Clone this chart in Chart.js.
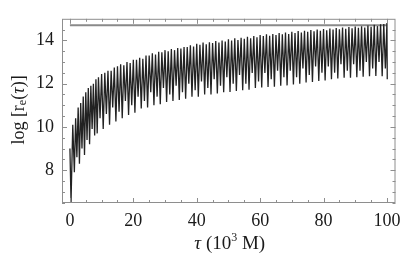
<!DOCTYPE html>
<html>
<head>
<meta charset="utf-8">
<script src="https://cdn.jsdelivr.net/npm/chart.js@4.4.1/dist/chart.umd.min.js"></script>
<style>
  body { margin: 0; background: #fff; }
  #wrap { width: 415px; height: 258px; position: relative; }
</style>
</head>
<body>
<div id="wrap"><canvas id="plot"></canvas></div>
<script>
// proper time tau, in units of 10^3 M
const tau = [
    0, 0.35, 0.9, 1.4, 1.8, 2.2, 2.6, 3.0, 3.4, 3.8, 4.2, 4.6, 5.0, 5.4, 5.8, 6.2,
    6.6, 7.0, 7.4, 7.8, 8.2, 8.6, 9.0, 9.5,
    10, 10.5, 11, 11.5, 12, 12.5, 13, 13.5, 14, 14.5, 15, 15.5, 16, 16.5, 17, 17.5,
    18, 18.5, 19, 19.5, 20, 20.5, 21, 21.5, 22, 22.5, 23, 23.5, 24, 24.5, 25, 25.5,
    26, 26.5, 27, 27.5, 28, 28.5, 29, 29.5, 30, 30.5, 31, 31.5, 32, 32.5, 33, 33.5,
    34, 34.5, 35, 35.5, 36, 36.5, 37, 37.5, 38, 38.5, 39, 39.5, 40, 40.5, 41, 41.5,
    42, 42.5, 43, 43.5, 44, 44.5, 45, 45.5, 46, 46.5, 47, 47.5, 48, 48.5, 49, 49.5,
    50, 50.5, 51, 51.5, 52, 52.5, 53, 53.5, 54, 54.5, 55, 55.5, 56, 56.5, 57, 57.5,
    58, 58.5, 59, 59.5, 60, 60.5, 61, 61.5, 62, 62.5, 63, 63.5, 64, 64.5, 65, 65.5,
    66, 66.5, 67, 67.5, 68, 68.5, 69, 69.5, 70, 70.5, 71, 71.5, 72, 72.5, 73, 73.5,
    74, 74.5, 75, 75.5, 76, 76.5, 77, 77.5, 78, 78.5, 79, 79.5, 80, 80.5, 81, 81.5,
    82, 82.5, 83, 83.5, 84, 84.5, 85, 85.5, 86, 86.5, 87, 87.5, 88, 88.5, 89, 89.5,
    90, 90.5, 91, 91.5, 92, 92.5, 93, 93.5, 94, 94.5, 95, 95.5, 96, 96.5, 97, 97.5,
    98, 98.5, 99, 99.5, 100, 100.1
];

// log[r_e(tau)] (peaks and dips)
const logRe = [
    9.0, 6.52, 10.1, 7.9, 10.4, 8.6, 10.9, 8.3, 11.1, 9.0, 11.4, 8.7, 11.6, 9.4, 11.8, 9.2,
    11.9, 9.9, 12.0, 9.6, 12.2, 9.7, 12.3, 10.4,
    12.45, 9.9, 12.5, 10.6, 12.6, 10.1, 12.6, 10.9, 12.75, 10.25, 12.8, 10.7, 12.9, 10.4, 12.85, 11.2,
    13.0, 10.55, 12.95, 11.0, 13.1, 10.65, 13.1, 11.4, 13.2, 10.85, 13.15, 11.2, 13.3, 10.9, 13.3, 11.6,
    13.4, 11.0, 13.35, 11.4, 13.48, 11.05, 13.45, 11.8, 13.55, 11.15, 13.5, 11.5, 13.6, 11.2, 13.55, 11.9,
    13.65, 11.25, 13.62, 11.6, 13.7, 11.3, 13.7, 12.0, 13.78, 11.4, 13.72, 11.7, 13.85, 11.4, 13.8, 12.1,
    13.9, 11.5, 13.82, 11.8, 13.92, 11.5, 13.88, 12.2, 13.97, 11.55, 13.9, 11.9, 14.0, 11.6, 13.95, 12.3,
    14.05, 11.62, 14.0, 12.0, 14.1, 11.66, 14.02, 12.4, 14.12, 11.7, 14.08, 12.0, 14.17, 11.72, 14.1, 12.5,
    14.2, 11.8, 14.15, 12.1, 14.25, 11.82, 14.2, 12.5, 14.28, 11.85, 14.22, 12.2, 14.3, 11.86, 14.25, 12.6,
    14.34, 11.9, 14.28, 12.3, 14.37, 11.92, 14.3, 12.6, 14.4, 11.96, 14.34, 12.3, 14.43, 12.0, 14.36, 12.7,
    14.45, 12.05, 14.4, 12.4, 14.48, 12.08, 14.42, 12.8, 14.5, 12.12, 14.45, 12.5, 14.53, 12.15, 14.47, 12.8,
    14.55, 12.2, 14.5, 12.5, 14.57, 12.24, 14.52, 12.9, 14.6, 12.27, 14.54, 12.6, 14.62, 12.28, 14.56, 12.9,
    14.64, 12.3, 14.58, 12.6, 14.66, 12.32, 14.6, 13.0, 14.69, 12.34, 14.63, 12.7, 14.72, 12.35, 14.66, 13.0,
    14.75, 12.34, 14.76, 12.7, 14.8, 12.2
];

// horizontal reference level
const refTau = [0, 100];
const refLog = [14.7, 14.7];

const xMajor = [0, 20, 40, 60, 80, 100];
const xMinor = [5, 10, 15, 25, 30, 35, 45, 50, 55, 65, 70, 75, 85, 90, 95];
const yMajor = [8, 10, 12, 14];
const yMinor = [6.5, 7, 7.5, 8.5, 9, 9.5, 10.5, 11, 11.5, 12.5, 13, 13.5, 14.5];

const SERIF = "'Liberation Serif', 'Times New Roman', serif";

function drawPieces(ctx, pieces, x0, y0) {
    // pieces: [text, font, dy]
    let w = 0;
    pieces.forEach(p => { ctx.font = p[1]; w += ctx.measureText(p[0]).width; });
    let x = x0 - w / 2;
    pieces.forEach(p => {
        ctx.font = p[1];
        ctx.fillText(p[0], x, y0 + p[2]);
        x += ctx.measureText(p[0]).width;
    });
}

const framePlugin = {
    id: 'frame',
    afterDatasetsDraw(chart) {
        const { ctx, chartArea: a, scales: { x, y } } = chart;
        ctx.save();
        ctx.strokeStyle = '#8e8e8e';
        ctx.lineWidth = 1;
        ctx.strokeRect(a.left + 0.5, a.top + 0.5, a.right - a.left - 1, a.bottom - a.top - 1);

        ctx.beginPath();
        const xTick = (v, len) => {
            const px = Math.round(x.getPixelForValue(v)) + 0.5;
            ctx.moveTo(px, a.bottom); ctx.lineTo(px, a.bottom - len);
            ctx.moveTo(px, a.top); ctx.lineTo(px, a.top + len);
        };
        const yTick = (v, len) => {
            const py = Math.round(y.getPixelForValue(v)) + 0.5;
            ctx.moveTo(a.left, py); ctx.lineTo(a.left + len, py);
            ctx.moveTo(a.right, py); ctx.lineTo(a.right - len, py);
        };
        xMajor.forEach(v => xTick(v, 5));
        xMinor.forEach(v => xTick(v, 3));
        yMajor.forEach(v => yTick(v, 5));
        yMinor.forEach(v => yTick(v, 3));
        ctx.stroke();

        // axis titles
        ctx.fillStyle = '#1a1a1a';
        ctx.textBaseline = 'middle';
        ctx.textAlign = 'left';
        const f = '19px ' + SERIF, fi = 'italic 19px ' + SERIF, fs = '12px ' + SERIF;
        drawPieces(ctx, [
            ['\u03c4', fi, 0],
            [' (10', f, 0],
            ['3', fs, -6],
            [' M)', f, 0]
        ], (a.left + a.right) / 2 + 1, 244);

        const g = '18px ' + SERIF, gi = 'italic 18px ' + SERIF;
        ctx.translate(19, 110);
        ctx.rotate(-Math.PI / 2);
        drawPieces(ctx, [
            ['log [r', g, 0],
            ['e', fs, 4],
            ['(', g, 0],
            ['\u03c4', gi, 0],
            [')]', g, 0]
        ], 0, 0);
        ctx.restore();
    }
};

document.addEventListener('DOMContentLoaded', () => {
    const orbit = tau.map((t, i) => ({ x: t, y: logRe[i] }));
    const level = refTau.map((t, i) => ({ x: t, y: refLog[i] }));
    const tickFont = { family: SERIF, size: 18 };

    new Chart(document.getElementById('plot'), {
        type: 'line',
        data: {
            datasets: [{
                data: orbit,
                borderColor: '#222222',
                borderWidth: 1.3,
                pointRadius: 0,
                tension: 0
            }, {
                data: level,
                borderColor: '#8a8a8a',
                borderWidth: 2,
                pointRadius: 0,
                tension: 0
            }]
        },
        options: {
            responsive: true,
            maintainAspectRatio: false,
            animation: false,
            layout: { padding: { left: 0, right: 19.5, top: 1.5, bottom: 0 } },
            plugins: { legend: { display: false }, tooltip: { enabled: false } },
            scales: {
                x: {
                    type: 'linear',
                    min: -2.5,
                    max: 102.7,
                    grid: { display: false, drawTicks: false },
                    border: { display: false },
                    ticks: { font: tickFont, color: '#1a1a1a', padding: 7, maxRotation: 0 },
                    afterBuildTicks: s => { s.ticks = xMajor.map(v => ({ value: v })); },
                    afterFit: s => { s.height = 55; }
                },
                y: {
                    type: 'linear',
                    min: 6.48,
                    max: 15.0,
                    grid: { display: false, drawTicks: false },
                    border: { display: false },
                    ticks: { font: tickFont, color: '#1a1a1a', padding: 8 },
                    afterBuildTicks: s => { s.ticks = yMajor.map(v => ({ value: v })); },
                    afterFit: s => { s.width = 62; }
                }
            }
        },
        plugins: [framePlugin]
    });
});
</script>
</body>
</html>
